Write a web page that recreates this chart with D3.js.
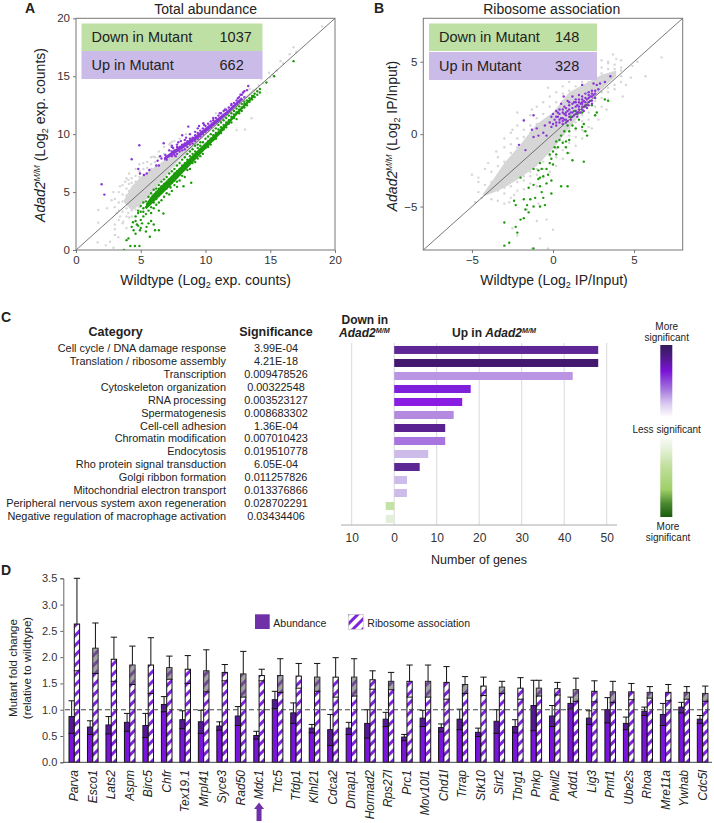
<!DOCTYPE html>
<html>
<head>
<meta charset="utf-8">
<script src="https://cdn.jsdelivr.net/npm/d3@7"></script>
<style>
body { margin: 0; background: #fff; }
svg { display: block; font-family: "Liberation Sans", Arial, sans-serif; }
text { fill: #222; }
</style>
</head>
<body>
<svg id="fig" width="714" height="823"></svg>
<script>
// ---- panel A (wildtype, mutant)
const aGrayBand = [[3.7,4.1,4.3],[4.3,3.4,5.5],[5,3.9,6.3],[5.84,4.9,7],[6.87,6.3,7.8],[7.9,7.7,8.5],[9,8.8,9.4],[10,9.9,10.3],[11,10.9,11.2],[12,11.9,12.2],[13,12.9,13.2],[14,13.9,14.1]];
const aPurpleBand = [[6.8,7.7,8],[7.9,8.5,8.9],[9.2,9.45,9.85],[10.5,10.6,11],[11.76,11.8,12.1],[12.8,12.9,13.2]];
const aGreenBand = [[5.4,3.5,4],[5.84,3.95,4.7],[7.13,5.35,6.15],[8.42,6.85,7.55],[9.7,8.35,8.95],[11,9.85,10.3],[12.3,11.5,11.8],[13.8,13.25,13.5]];
const aGray = [[1.72,3.45],[1.72,2.36],[1.67,.66],[2.63,.72],[3.01,1.29],[3.27,1.09],[2.75,4.3],[2.88,5],[3.4,5.5],[3.8,5.9],[4.04,6.05],[3.4,2.9],[3.65,2.45],[4.04,3.2],[3.14,3.2],[5.2,7.5],[5.97,8.06],[7.26,9.2],[7.4,9.35],[13.56,11.37],[13.05,10.4],[12.4,10.36],[19,19.3],[16.8,17.5],[16,16.1],[15.5,15.5],[15.2,15.1],[14.7,14.5],[14.45,14.4],[14.1,14.2],[16.5,16.9],[17,17.1],[15.8,16.3],[15,14.9],[14.9,15.3],[14.3,14.8],[13.7,13.8],[13.4,13.9],[12.9,13.5],[11.5,12.2],[10.8,11.8],[2.4,3.6],[3,2.2],[2.9,.2],[2.3,.4]];
const aGrayCols = [[3,[4.4,3.7,1.8]],[3.3,[5,4.1,3.4,2.6]],[3.6,[5.6,4.8,4.2,3.3,2.3]],[3.9,[6.2,5.3,4.7,3.6,2.9,1.9]],[4.1,[6.6,5.7,5.1,3.9,2.8]],[4.3,[6.2,5.8,3.4,2.9]],[4.6,[7,6.4,5.9,3.5]],[4.9,[7.4,6.8,6.3,3.7]],[5.2,[7,6.5,4.1]],[5.5,[7.6,7.1,4.5]],[5.8,[8,7.4,7,4.9]],[6.1,[8,7.6,5.2]],[6.4,[8.5,8,5.9]],[6.8,[8.9,8.3,6.4]],[7.2,[9.1,8.6,6.9]],[7.6,[9.4,7.3]],[8,[9.6,7.6]],[8.5,[10,8.2]]];
const aPurple = [[1.98,5.67],[2.19,4.78],[4.3,7.83],[4.89,9.04],[6.77,9.21],[4.81,7],[4.94,6.6],[5.46,6.6],[5.25,6.47],[5.66,6.9],[8.67,10.65],[9.83,10.94],[13.3,14.16],[13.2,13.8],[6.2,7.3],[6.3,7.7],[6.4,7.3],[6.6,7.9],[6.9,8.2],[7,7.8],[7.2,8.6],[7.5,8.8],[7.7,8.1],[7.9,9.3],[8.1,9.4],[8.5,9.7],[8.8,10],[9.2,10.2],[9.4,10.5],[9.9,10.8],[10.6,11.4],[11.1,11.8],[11.5,12.1],[12,12.6],[12.5,13.1],[12.9,13.6],[12.7,13.4],[8.2,9.9],[7.4,9],[9.5,10.7],[6.5,8.1]];
const aPurpleCols = [[7.4,[8.1,8.5,8.9]],[7.6,[8.2,8.6]],[7.8,[8.3,8.9,9.1]],[8,[8.5,8.9]],[8.2,[8.6,9.1]],[8.4,[8.7,9.2,9.5]],[8.6,[8.9,9.4]],[8.8,[9.1,9.6]],[9,[9.2,9.7]],[9.2,[9.4,9.9]],[9.4,[9.6,10.1]],[9.6,[9.8,10.3]],[9.8,[10,10.5]],[10,[10.2,10.7]],[10.2,[10.4,10.9]],[10.4,[10.6,11.1]],[10.6,[10.8,11.2]],[10.8,[11,11.4]],[11,[11.2,11.6]],[11.2,[11.4,11.8]],[11.4,[11.6,12]],[11.6,[11.8,12.1]],[11.8,[12,12.3]],[12,[12.2,12.5]],[12.2,[12.4,12.7]],[12.4,[12.6,12.9]],[12.6,[12.8,13.2]],[12.8,[13,13.4]],[13,[13.2,13.7]]];
const aGreen = [[3.9,.85],[4.05,1],[4.2,.35],[4.55,.35],[4.9,.35],[3.7,0],[4.3,2],[4.45,1.7],[4.94,1.7],[5.7,1.15],[5.45,2],[6.4,1.7],[6.1,1.7],[4.4,2.4],[4.7,2.2],[5.1,2.3],[5.8,2.5],[6.75,3.15],[8.9,5.8],[7.8,5.45],[8.3,5.5],[7.3,5.4],[16.8,16.3],[15.3,15],[14.7,14.45]];
const aGreenCols = [[4.6,[1.4,2.5,2.9]],[4.8,[2.1,3.2,3.4]],[5,[1.9,2.6,3.3,3.8]],[5.2,[2.9,3.3,3.6,4.1]],[5.4,[1.6,3.1,3.7,4.2]],[5.6,[2.3,3.4,3.9,4.6]],[5.8,[3.2,3.7,4.4,4.9]],[6,[2.2,3.6,4.1,4.7,5.2]],[6.2,[3.9,4.4,5,5.3]],[6.4,[3.4,4.1,4.7,5.3,5.6]],[6.6,[4.3,5,5.5,5.9]],[6.8,[4.6,5.2,5.7,6.1]],[7,[4.9,5.3,5.8,6.3]],[7.2,[4.8,5.5,6.1,6.6]],[7.4,[5.1,5.8,6.3,6.8]],[7.6,[5.6,6,6.6,7]],[7.8,[5.9,6.3,6.8,7.3]],[8,[6,6.5,7,7.5]],[8.2,[6.4,6.8,7.3,7.8]],[8.4,[6.3,7,7.5,8]],[8.6,[6.9,7.3,7.8,8.3]],[8.8,[7,7.6,8.1,8.5]],[9,[7.5,7.9,8.3,8.7]],[9.2,[7.6,8,8.5,9]],[9.4,[7.9,8.4,8.8,9.1]],[9.6,[8.1,8.6,9,9.3]],[9.8,[8.3,8.8,9.3]],[10,[8.8,9.1,9.6]],[10.2,[8.9,9.4,9.8]],[10.4,[9.1,9.6,10]],[10.6,[9.5,9.9,10.3]],[10.8,[9.6,10.1,10.5]],[11,[10,10.4,10.8]],[11.2,[10.1,10.6,11]],[11.4,[10.4,10.8,11.2]],[11.6,[10.6,11,11.4]],[11.8,[10.9,11.2,11.6]],[12,[11,11.5,11.8]],[12.2,[11.4,11.7,12]],[12.4,[11.3,11.9,12.2]],[12.6,[11.8,12.1,12.4]],[12.8,[12,12.3,12.6]],[13,[12.3,12.6,12.8]],[13.2,[12.5,12.9]],[13.4,[12.8,13.1]],[13.6,[13,13.3]],[13.8,[13.2,13.5]],[14,[13.4,13.7]],[14.2,[13.6,13.9]]];

// ---- panel B (wildtype, mutant)
const bGrayBand = [[-4.3,-4.3,-4.1],[-3.6,-4,-3],[-3,-3.7,-2],[-2,-3,-.7],[-1,-2.2,.7],[0,-1,1.5],[1,.4,2.9],[2,1.8,3.5],[3,3.1,4.1],[3.9,4,4.4]];
const bGray = [[6.7,5.3],[5.7,4],[4.8,3.9],[5.2,5],[4.9,4.7],[4.3,2.6],[4.2,5.1],[3.9,5.2],[3.7,5.5],[3.4,5],[3,5.1],[2.6,4.8],[2,4.7],[1.7,4.4],[.7,4.2],[-.3,3.2],[-1.3,1.7],[-2.2,1.5],[-2.5,.3],[-3,-.3],[-3.5,-1.2],[-4,-2],[-5,-2.8],[-4.6,-3],[-4.4,-4.4],[-4.8,-4.7],[-2.7,-4.7],[-2.4,-4.2],[-1,-6],[-.4,-5.9],[-1.3,-7.9],[-.3,-7.9],[-.8,-7.2],[0,-6.6],[-2.5,-6.5],[-2.2,-7],[-1.6,-5.2],[-.9,-4.8],[1.9,.2],[2.4,.4],[2.8,1],[3.3,1.7],[4.5,3.4]];
const bGrayCols = [[-4.6,[-4,-3.3]],[-4.2,[-4.1,-3.5,-2.4]],[-3.8,[-4.5,-3.8,-3.3,-2.6]],[-3.4,[-4.6,-3.9,-3.4,-3,-2.2,-1.6]],[-3,[-4.8,-4.1,-3.7,-3,-2.4,-1.9,-.9]],[-2.6,[-4.4,-3.6,-2.9,-2.5,-1.8,-1.3,-.7,.1]],[-2.2,[-3.9,-3.3,-2.8,-1.4,-.9,-.3,.6]],[-1.8,[-3.8,-3.2,-2.9,-.7,-.2,.3,1]],[-1.4,[-3.4,-2.9,-2.6,-.4,.1,.6,1.3]],[-1,[-3.6,-2.8,-2.4,.2,.7,1.1,1.9]],[-.6,[-3,-2.4,-1.9,.4,.9,1.4,2.2]],[-.2,[-2.6,-2,-1.5,.7,1.2,1.9,2.6]],[.2,[-2.2,-1.6,-1,-.6,1.5,2.2,2.9]],[.6,[-1.7,-1.1,-.5,0,2.3,2.8,3.3]],[1,[-1.3,-.6,-.1,.4,2.6,3,3.6]],[1.4,[-.8,-.2,.3,.8,3,3.3,3.9]],[1.8,[-.3,.3,.9,1.3,3.2,3.6,4.1]],[2.2,[.5,1,1.5,3.6,4,4.4]],[2.6,[1.3,1.9,2.3,4,4.3,4.8]],[3,[1.9,2.5,2.9,4.2,4.6]],[3.4,[2.4,2.9,3.2,4.5,4.9]],[3.8,[3.1,3.4,4.5,4.8]],[4.2,[3.6,4,4.4,4.6]]];
const bPurple = [[-2.1,-.74],[-1.8,.94],[-1.3,.3],[-1.2,-.2],[-1.7,-1.1],[-1.2,1.3],[-1,.4],[-.9,-.1],[-.6,.1],[-.5,.6],[-.4,-.1],[-.2,.8],[-.1,.5],[-.1,1.2],[0,.7],[0,1.4],[.1,1],[.2,.6],[.2,1.6],[.3,1.2],[.4,.8],[.4,1.7],[.5,1.1],[.6,.7],[.6,1.5],[.7,1],[.7,1.9],[.8,1.3],[.8,.8],[.9,1.6],[1,1.2],[1,2],[1.1,1.5],[1.1,1],[1.2,1.8],[1.3,1.3],[1.3,2.2],[1.4,1.6],[1.5,1.2],[1.5,2],[1.6,1.7],[1.6,2.4],[1.7,1.5],[1.7,2.1],[1.8,1.9],[1.8,2.6],[1.9,1.6],[1.9,2.3],[2,2],[2,2.8],[2.1,2.4],[2.1,1.8],[2.2,2.2],[2.2,2.9],[2.3,2.6],[2.4,2.1],[2.4,3],[2.5,2.7],[2.6,2.5],[2.8,3.1],[2.9,3.5],[3.2,3.6],[2.7,3.4],[3.54,4],[1.8,3.4],[2.5,3.5],[.66,2.6],[.5,2.1],[.9,2.3],[1.2,2.6],[.3,1.5],[1.4,2.4],[.9,.9],[1.8,2.2],[1.5,1.5],[2.3,2.3],[.7,1.4]];
const bPurpleCols = [[.2,[.8,1.2]],[.4,[1,1.4]],[.6,[1.1,1.7,.9]],[.8,[1,1.5,1.8]],[1,[1.4,1.7,2.2]],[1.2,[1.2,1.5,2.1]],[1.4,[1.4,1.9,2.2]],[1.6,[1.5,1.9,2.2,2.7]],[1.8,[1.7,2.1,2.4]],[2,[1.9,2.2,2.5]],[2.2,[2,2.5,2.7]],[2.4,[2.3,2.6,2.8]],[2.6,[2.8,3]]];
const bGreen = [[3.4,2.3],[3.2,2.4],[2.7,1.5],[2.4,2],[2.1,2],[2.6,1.3],[1.8,1.5],[1.9,1.9],[1.5,1.4],[1.3,1.6],[1.1,1.2],[1.6,1],[1.2,.6],[1.8,.5],[2,.2],[2.1,-.1],[1.9,.7],[1.4,.4],[1,.2],[.9,.6],[.7,.2],[.5,-.1],[1,-.4],[.8,-.5],[.4,-.4],[.2,-.5],[.1,-.9],[.6,-.6],[.3,-.9],[.8,-.9],[0,-1.2],[-.2,-1.4],[.9,-1.3],[.2,-1.4],[1.2,-1.8],[1.9,-1.9],[-.1,-1.7],[-.2,-2],[0,-2.1],[-.4,-2.4],[-.8,-2],[-.7,-2.4],[-.9,-2.5],[-1.2,-2.4],[-.6,-2.9],[-.8,-3],[-.9,-3.1],[-.3,-2.8],[-.1,-3.2],[-2,-3],[-1.2,-3.5],[-1.5,-3.7],[-.8,-3.6],[-.4,-3.4],[-.1,-4.1],[-.7,-4],[-.6,-4.4],[.5,-3.6],[.9,-3.6],[-1.1,-4.4],[-1.4,-4.5],[-1.8,-4.5],[-2.4,-4.6],[-2.3,-4.9],[-1.6,-4.9],[-.8,-5],[-1.2,-5],[-.5,-4.9],[-1.7,-5.2],[-1.5,-5.4],[-2,-5.9],[-1.8,-5.8],[-3,-6.1],[-2.3,-6.4],[-2.2,-6.8],[-3,-7.7],[-2.7,-7.5],[-1.2,-7.9]];
const lineEnds = { a: [0, 20], b: [-8, 8] };

// ---- panel C
const categories = ["Cell cycle / DNA damage response","Translation / ribosome assembly","Transcription","Cytoskeleton organization","RNA processing","Spermatogenesis","Cell-cell adhesion","Chromatin modification","Endocytosis","Rho protein signal transduction","Golgi ribbon formation","Mitochondrial electron transport","Peripheral nervous system axon regeneration","Negative regulation of macrophage activation"];
const significance = ["3.99E-04","4.21E-18","0.009478526","0.00322548","0.003523127","0.008683302","1.36E-04","0.007010423","0.019510778","6.05E-04","0.011257826","0.013376866","0.028702291","0.03434406"];
const geneCounts = [48,48,42,18,16,14,12,12,8,6,3,3,-2,-2];
const barColors = ["#5f2795","#43186f","#b995e3","#7d1fdb","#8a1de2","#b48ae0","#5a2190","#a874e0","#cdbbea","#5c2694","#cdbbea","#cdbbea","#c3e3a5","#e3efd8"];
const countTicks = [-10,0,10,20,30,40,50];

// ---- panel D
const genes = ["Parva","Esco1","Lats2","Aspm","Birc5","Chfr","Tex19.1","Mrpl41","Syce3","Rad50","Mdc1","Ttc5","Tfdp1","Klhl21","Cdca2","Dmap1","Hormad2","Rps27l","Prc1","Mov10l1","Chd1l","Trrap","Stk10","Sirt2","Tbrg1","Pnkp","Piwil2","Add1","Lig3","Pmf1","Ube2s","Rhoa","Mre11a","Ywhab","Cdc5l"];
const abundance = [.87,.67,.71,.76,.70,1.10,.81,.77,.69,.88,.51,1.19,.94,.65,.62,.65,.74,.82,.48,.84,.66,.82,.57,.78,.68,1.08,.88,1.12,.84,1.0,.74,.97,.91,1.05,.82];
const abundanceHi = [1.17,.79,.87,.93,.93,1.25,.98,.99,.77,1.06,.59,1.35,1.13,.72,.91,.76,1.0,.95,.53,.99,.73,1.01,.65,1.0,.81,1.56,1.08,1.24,.98,1.23,.86,1.05,1.12,1.14,.89];
const abundanceLo = [.55,.53,.54,.59,.47,.96,.64,.55,.61,.70,.44,1.02,.74,.56,.32,.53,.46,.68,.41,.68,.58,.62,.49,.55,.56,.60,.68,1.01,.72,.75,.62,.89,.70,.94,.74];
const ribosome = [2.63,2.17,1.96,1.85,1.85,1.80,1.77,1.74,1.71,1.68,1.65,1.65,1.64,1.62,1.62,1.62,1.57,1.54,1.54,1.54,1.52,1.48,1.45,1.43,1.41,1.41,1.40,1.38,1.35,1.34,1.34,1.33,1.33,1.33,1.31];
const ribosomeHi = [3.5,2.65,2.38,2.21,2.37,2.02,2.03,2.14,1.86,2.11,1.77,1.97,1.88,1.88,1.99,1.97,1.74,1.71,1.85,1.85,1.82,1.63,1.62,1.54,1.61,1.56,1.52,1.60,1.55,1.54,1.50,1.44,1.48,1.44,1.45];
const ribosomeLo = [1.74,1.69,1.54,1.48,1.31,1.58,1.50,1.34,1.55,1.24,1.55,1.33,1.41,1.35,1.24,1.26,1.39,1.38,1.24,1.24,1.20,1.31,1.27,1.31,1.20,1.26,1.28,1.16,1.15,1.14,1.19,1.22,1.17,1.20,1.16];
const greyBoxGenes = ["Esco1","Aspm","Chfr","Mrpl41","Rad50","Ttc5","Klhl21","Dmap1","Rps27l","Mov10l1","Trrap","Sirt2","Pnkp","Add1","Pmf1","Rhoa","Ywhab","Cdc5l"];
const foldTicks = [0,.5,1,1.5,2,2.5,3,3.5];

const PURPLE = "#8a35d8", GREEN = "#1c9a0a", GRAY = "#d6d6d6";
const svg = d3.select("#fig");
const defs = svg.append("defs");

function label(x, y, txt, size, opts) {
    opts = opts || {};
    return svg.append("text")
    .attr("x", x).attr("y", y)
    .attr("font-size", size)
    .attr("font-weight", opts.bold ? "bold" : null)
    .attr("font-style", opts.italic ? "italic" : null)
    .attr("text-anchor", opts.anchor || "start")
    .text(txt);
}

// text with Adad2 M/M italic superscript, or Log2 subscript, built from pieces
function richText(sel, parts) {
    parts.forEach(function(p) {
        const t = sel.append("tspan").text(p.t);
        if (p.i) t.attr("font-style", "italic");
        if (p.sup) t.attr("font-size", "0.6em").attr("dy", "-0.55em");
        if (p.sub) t.attr("font-size", "0.65em").attr("dy", "0.3em");
        if (p.back) t.attr("dy", p.back);
    });
}

// merge the pairs with the x: [y, y, ...] column lists
function allPoints(pairs, cols) {
    return pairs.concat(d3.merge(cols.map(c => c[1].map(y => [c[0], y]))));
}

function scatter(cfg) {
    const x = d3.scaleLinear().domain(cfg.domain).range(cfg.xr);
    const y = d3.scaleLinear().domain(cfg.domain).range(cfg.yr);
    defs.append("clipPath").attr("id", "clip" + cfg.id).append("rect")
    .attr("x", cfg.xr[0]).attr("y", cfg.yr[1])
    .attr("width", cfg.xr[1] - cfg.xr[0]).attr("height", cfg.yr[0] - cfg.yr[1]);

    const g = svg.append("g").attr("clip-path", "url(#clip" + cfg.id + ")");
    const band = d3.area().x(d => x(d[0])).y0(d => y(d[1])).y1(d => y(d[2]));
    const dots = function(data, color, r) {
        g.append("g").selectAll("circle").data(data).join("circle")
        .attr("cx", d => x(d[0])).attr("cy", d => y(d[1]))
        .attr("r", r).attr("fill", color);
    };
    g.append("path").attr("d", band(cfg.grayBand)).attr("fill", GRAY);
    dots(cfg.gray, GRAY, 1.2);
    if (cfg.greenBand) g.append("path").attr("d", band(cfg.greenBand)).attr("fill", GREEN);
    dots(cfg.green, GREEN, 1.2);
    if (cfg.purpleBand) g.append("path").attr("d", band(cfg.purpleBand)).attr("fill", PURPLE);
    dots(cfg.purple, PURPLE, 1.2);

    g.append("line")
    .attr("x1", x(cfg.domain[0])).attr("y1", y(cfg.domain[0]))
    .attr("x2", x(cfg.domain[1])).attr("y2", y(cfg.domain[1]))
    .attr("stroke", "#555").attr("stroke-width", 0.8);

    // count boxes
    const t = cfg.table;
    svg.append("rect").attr("x", t.x).attr("y", 23.5).attr("width", t.w).attr("height", 27.5).attr("fill", "#bfe0a5");
    svg.append("rect").attr("x", t.x).attr("y", t.y2).attr("width", t.w).attr("height", 28).attr("fill", "#cbbbe8");
    label(t.x + t.tx, 42, "Down in Mutant", 14.5);
    label(t.x + t.nx, 42, t.down, 14.5);
    label(t.x + t.tx, t.y2 + 19, "Up in Mutant", 14.5);
    label(t.x + t.nx, t.y2 + 19, t.up, 14.5);

    // box and ticks
    svg.append("rect").attr("x", cfg.xr[0]).attr("y", cfg.yr[1])
    .attr("width", cfg.xr[1] - cfg.xr[0]).attr("height", cfg.yr[0] - cfg.yr[1])
    .attr("fill", "none").attr("stroke", "#777").attr("stroke-width", 1);
    const ax = svg.append("g").attr("transform", `translate(0,${cfg.yr[0]})`)
    .call(d3.axisBottom(x).tickValues(cfg.ticks).tickSize(3).tickPadding(3));
    const ay = svg.append("g").attr("transform", `translate(${cfg.xr[0]},0)`)
    .call(d3.axisLeft(y).tickValues(cfg.ticks).tickSize(3).tickPadding(3));
    [ax, ay].forEach(function(a) {
        a.select(".domain").remove();
        a.selectAll("line").attr("stroke", "#777");
        a.selectAll("text").attr("font-size", 11.5).attr("font-family", "Liberation Sans").style("fill", "#333");
    });
}

scatter({ id: "A", domain: lineEnds.a, ticks: [0,5,10,15,20], xr: [76,335], yr: [250,18.3],
    grayBand: aGrayBand, greenBand: aGreenBand, purpleBand: aPurpleBand,
    gray: allPoints(aGray, aGrayCols), green: allPoints(aGreen, aGreenCols), purple: allPoints(aPurple, aPurpleCols),
    table: { x: 81.5, w: 181, y2: 51, tx: 10, nx: 138, down: "1037", up: "662" } });
scatter({ id: "B", domain: lineEnds.b, ticks: [-5,0,5], xr: [423.3,682.7], yr: [250,18.3],
    grayBand: bGrayBand, gray: allPoints(bGray, bGrayCols), green: bGreen, purple: allPoints(bPurple, bPurpleCols),
    table: { x: 429, w: 168, y2: 52, tx: 10, nx: 126, down: "148", up: "328" } });

label(25, 13, "A", 14, { bold: true });
label(374, 13, "B", 14, { bold: true });
label(1, 322, "C", 14, { bold: true });
label(1, 575, "D", 14, { bold: true });
label(205.6, 13.5, "Total abundance", 14, { anchor: "middle" });
label(551.7, 13.5, "Ribosome association", 14, { anchor: "middle" });

richText(label(205.6, 285, "", 14, { anchor: "middle" }), [{t:"Wildtype (Log"},{t:"2",sub:1},{t:" exp. counts)",back:"-0.2em"}]);
richText(label(554, 285, "", 14, { anchor: "middle" }), [{t:"Wildtype (Log"},{t:"2",sub:1},{t:" IP/Input)",back:"-0.2em"}]);
richText(label(0, 0, "", 14, { anchor: "middle" }).attr("transform", "translate(45,135) rotate(-90)"),
    [{t:"Adad2",i:1},{t:"M/M",i:1,sup:1},{t:" (Log",back:"0.33em"},{t:"2",sub:1},{t:" exp. counts)",back:"-0.2em"}]);
richText(label(0, 0, "", 14, { anchor: "middle" }).attr("transform", "translate(397,136) rotate(-90)"),
    [{t:"Adad2",i:1},{t:"M/M",i:1,sup:1},{t:"  (Log",back:"0.33em"},{t:"2",sub:1},{t:" IP/Input)",back:"-0.2em"}]);

// ---- C: table and bars
label(115.7, 336, "Category", 12.5, { bold: true, anchor: "middle" });
label(276, 336, "Significance", 12.5, { bold: true, anchor: "middle" });
const rowY = d3.scalePoint().domain(categories).range([352, 520]);
const barY = d3.scaleBand().domain(categories).range([343.5, 525.5]).paddingInner(0.385).paddingOuter(0.19);
const countX = d3.scaleLinear().domain([-10, 50]).range([351.7, 606.7]);

svg.append("g").selectAll("text").data(categories).join("text")
.attr("x", 226).attr("y", d => rowY(d)).attr("text-anchor", "end").attr("font-size", 10.9).text(d => d);
svg.append("g").selectAll("text").data(significance).join("text")
.attr("x", 276).attr("y", (d, i) => rowY(categories[i])).attr("text-anchor", "middle").attr("font-size", 10.9).text(d => d);

svg.append("g").selectAll("line").data(countTicks).join("line")
.attr("x1", d => countX(d)).attr("x2", d => countX(d))
.attr("y1", 343).attr("y2", 525).attr("stroke", "#d9d9d9").attr("stroke-width", 1);

svg.append("g").selectAll("rect").data(geneCounts).join("rect")
.attr("x", d => countX(Math.min(0, d)))
.attr("y", (d, i) => barY(categories[i]))
.attr("width", d => Math.abs(countX(d) - countX(0)))
.attr("height", barY.bandwidth())
.attr("fill", (d, i) => barColors[i]);

const cAxis = svg.append("g").attr("transform", "translate(0,525)")
.call(d3.axisBottom(countX).tickValues(countTicks).tickSize(0).tickPadding(8).tickFormat(d => Math.abs(d)));
cAxis.select(".domain").remove();
cAxis.selectAll("text").attr("font-size", 12).attr("font-family", "Liberation Sans").style("fill", "#333");
svg.append("line").attr("x1", 341).attr("x2", 617).attr("y1", 525).attr("y2", 525).attr("stroke", "#aaa").attr("stroke-width", 1);

label(479, 564, "Number of genes", 12.5, { anchor: "middle" });
label(341.5, 324, "Down in", 12, { bold: true });
richText(label(339, 337, "", 12, { bold: true }), [{t:"Adad2",i:1},{t:"M/M",i:1,sup:1}]);
richText(label(494, 337, "", 12, { bold: true, anchor: "middle" }), [{t:"Up in "},{t:"Adad2",i:1},{t:"M/M",i:1,sup:1}]);

// colour key
const keyStops = [[0,"#351a5c"],[.06,"#4a1a80"],[.15,"#7a12d6"],[.25,"#a06fdc"],[.34,"#d8c8f0"],[.42,"#ffffff"],[.52,"#ffffff"],[.6,"#e6f1da"],[.72,"#bcdd96"],[.84,"#9fcf68"],[.92,"#4c8a30"],[1,"#1a5c10"]];
const grad = defs.append("linearGradient").attr("id", "keyGrad").attr("x1", 0).attr("x2", 0).attr("y1", 0).attr("y2", 1);
grad.selectAll("stop").data(keyStops).join("stop").attr("offset", d => d[0]).attr("stop-color", d => d[1]);
svg.append("rect").attr("x", 660.3).attr("y", 345).attr("width", 12).attr("height", 172).attr("fill", "url(#keyGrad)");
label(666.7, 330, "More", 10, { anchor: "middle" });
label(666.7, 341, "significant", 10, { anchor: "middle" });
label(666.7, 433, "Less significant", 10, { anchor: "middle" });
label(668, 530, "More", 10, { anchor: "middle" });
label(668, 541, "significant", 10, { anchor: "middle" });

// ---- D: grouped bars
const foldX = d3.scaleBand().domain(genes).range([65, 711.8]);
const sideX = d3.scaleBand().domain(["abundance", "ribosome"]).range([4, 14.6]);
const foldY = d3.scaleLinear().domain([0, 3.5]).range([762.3, 578.3]);

const stripes = defs.append("pattern").attr("id", "stripes").attr("patternUnits", "userSpaceOnUse")
.attr("width", 7).attr("height", 7).attr("patternTransform", "rotate(45)");
stripes.append("rect").attr("width", 7).attr("height", 7).attr("fill", "#fff");
stripes.append("rect").attr("width", 3).attr("height", 7).attr("fill", "#7f22dc");

const groups = svg.append("g").selectAll("g").data(genes).join("g")
.attr("transform", d => `translate(${foldX(d)},0)`);

function drawSeries(name, vals, hi, lo, fill) {
    const w = sideX.bandwidth();
    const x0 = sideX(name);
    const xm = x0 + w / 2;
    groups.append("rect").attr("x", x0).attr("width", w)
    .attr("y", (d, i) => foldY(vals[i]))
    .attr("height", (d, i) => foldY(0) - foldY(vals[i]))
    .attr("fill", fill)
    .attr("stroke", "#111").attr("stroke-width", 1);
    // darker box between lower error and the top of the bar
    groups.append("rect").attr("x", x0).attr("width", w)
    .attr("y", (d, i) => foldY(vals[i]))
    .attr("height", (d, i) => foldY(lo[i]) - foldY(vals[i]))
    .attr("fill", d => name == "abundance" ? "#3c1a66" : (greyBoxGenes.includes(d) ? "#666" : "none"))
    .attr("fill-opacity", 0.6);
    groups.append("line").attr("x1", xm).attr("x2", xm)
    .attr("y1", (d, i) => foldY(hi[i])).attr("y2", (d, i) => foldY(vals[i]))
    .attr("stroke", "#111").attr("stroke-width", 1);
    [hi, lo].forEach(function(end) {
        groups.append("line").attr("x1", x0 - 0.5).attr("x2", x0 + w + 0.5)
        .attr("y1", (d, i) => foldY(end[i])).attr("y2", (d, i) => foldY(end[i]))
        .attr("stroke", "#111").attr("stroke-width", 1);
    });
}
drawSeries("abundance", abundance, abundanceHi, abundanceLo, "#7a14dc");
drawSeries("ribosome", ribosome, ribosomeHi, ribosomeLo, "url(#stripes)");

svg.append("line").attr("x1", foldX.range()[0]).attr("x2", 712)
.attr("y1", foldY(1)).attr("y2", foldY(1))
.attr("stroke", "#444").attr("stroke-width", 1.1).attr("stroke-dasharray", "5,3");

const dAxisY = svg.append("g").attr("transform", "translate(63.3,0)")
.call(d3.axisLeft(foldY).tickValues(foldTicks).tickSize(3).tickPadding(3).tickFormat(d3.format(".1f")));
dAxisY.selectAll("text").attr("font-size", 11).attr("font-family", "Liberation Sans").style("fill", "#333");
dAxisY.selectAll("line,.domain").attr("stroke", "#666");
svg.append("line").attr("x1", 63.3).attr("x2", 712).attr("y1", foldY(0)).attr("y2", foldY(0)).attr("stroke", "#444");

groups.append("text")
.attr("transform", `translate(${foldX.bandwidth() / 2 + 4},770) rotate(-90)`)
.attr("text-anchor", "end").attr("font-size", 12).attr("font-style", "italic")
.text(d => d);

label(0, 0, "Mutant fold change", 11.5, { anchor: "middle" }).attr("transform", "translate(17,668) rotate(-90)");
label(0, 0, "(relative to wildtype)", 11.5, { anchor: "middle" }).attr("transform", "translate(31,668) rotate(-90)");

svg.append("rect").attr("x", 255).attr("y", 614.3).attr("width", 14.7).attr("height", 14.7).attr("fill", "#7030a8");
label(273.3, 627, "Abundance", 10.5);
svg.append("rect").attr("x", 348.5).attr("y", 614.5).attr("width", 14.7).attr("height", 14.7).attr("fill", "url(#stripes)").attr("stroke", "#aaa").attr("stroke-width", 0.5);
label(367.3, 627, "Ribosome association", 10.5);

// arrow under Mdc1
const arrowX = foldX("Mdc1") + foldX.bandwidth() / 2;
svg.append("path").attr("fill", "#7030a8")
.attr("d", d3.line()([[arrowX - 2.5, 821],[arrowX - 2.5, 809],[arrowX - 5, 809],[arrowX, 802.5],[arrowX + 5, 809],[arrowX + 2.5, 809],[arrowX + 2.5, 821]]) + "Z");
</script>
</body>
</html>
